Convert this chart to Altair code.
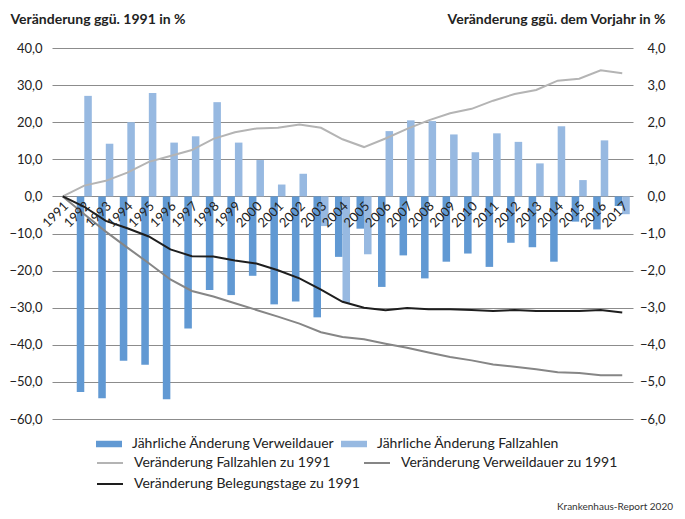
import altair as alt
import pandas as pd

FONT = "Lato"

years = [str(y) for y in range(1991, 2018)]

# Jährliche Änderung (rechte Achse, % ggü. Vorjahr)
vwd_change = [None, -5.27, -5.44, -4.43, -4.54, -5.47, -3.56, -2.52, -2.66, -2.14, -2.91,
              -2.83, -3.26, -1.63, -0.87, -2.44, -1.59, -2.21, -1.76, -1.54, -1.90,
              -1.25, -1.37, -1.76, -0.68, -0.89, -0.26]
fall_change = [None, 2.71, 1.42, 2.00, 2.79, 1.45, 1.62, 2.54, 1.45, 0.98, 0.32,
               0.61, -0.80, -2.87, -1.56, 1.76, 2.05, 2.03, 1.67, 1.19, 1.70,
               1.47, 0.89, 1.89, 0.44, 1.51, -0.48]

# Veränderung ggü. 1991 (linke Achse, %)
fall_line = [0.0, 2.9, 4.2, 6.4, 9.3, 10.9, 12.5, 15.5, 17.3, 18.3, 18.5, 19.4, 18.5,
             15.4, 13.3, 15.6, 18.2, 20.5, 22.4, 23.6, 25.8, 27.6, 28.7, 31.2, 31.7, 34.0, 33.2]
vwd_line = [0.0, -4.8, -9.5, -13.8, -18.0, -22.4, -25.5, -27.0, -28.8, -30.6, -32.4, -34.3,
            -36.6, -37.9, -38.5, -39.7, -40.8, -42.1, -43.3, -44.2, -45.3, -45.9, -46.6,
            -47.4, -47.6, -48.2, -48.2]
beleg_line = [0.0, -2.8, -6.6, -8.6, -10.8, -14.3, -16.1, -16.2, -17.3, -18.1, -19.9, -22.1,
              -25.1, -28.4, -30.0, -30.7, -30.1, -30.4, -30.4, -30.6, -30.9, -30.6, -30.9,
              -30.9, -30.9, -30.6, -31.3]

bar_names = ["Jährliche Änderung Verweildauer", "Jährliche Änderung Fallzahlen"]
bar_colors = ["#6199d3", "#97b9e1"]
line_names = ["Veränderung Fallzahlen zu 1991", "Veränderung Verweildauer zu 1991",
              "Veränderung Belegungstage zu 1991"]
line_colors = ["#b4b4b4", "#868686", "#1e1e1e"]

left_ticks = [-60, -50, -40, -30, -20, -10, 0, 10, 20, 30, 40]
right_ticks = [-6, -5, -4, -3, -2, -1, 0, 1, 2, 3, 4]

bars_df = pd.DataFrame({
    "year": years * 2,
    "series": [bar_names[0]] * len(years) + [bar_names[1]] * len(years),
    "value": vwd_change + fall_change,
}).dropna()

lines_df = pd.DataFrame({
    "year": years * 3,
    "series": [line_names[0]] * len(years) + [line_names[1]] * len(years) + [line_names[2]] * len(years),
    "value": fall_line + vwd_line + beleg_line,
})

labels_df = pd.DataFrame({"year": years, "zero": [0] * len(years)})

label_expr = "replace(format(datum.value, '.1f'), '.', ',')"

x_enc = alt.X("year:N", scale=alt.Scale(domain=years, paddingInner=0.3, paddingOuter=0.15),
              axis=None)

bars = alt.Chart(bars_df).mark_bar().encode(
    x=x_enc,
    xOffset=alt.XOffset("series:N", scale=alt.Scale(domain=bar_names, paddingInner=0, paddingOuter=0)),
    y=alt.Y("value:Q",
            scale=alt.Scale(domain=[-6, 4], nice=False, zero=False),
            axis=alt.Axis(orient="right", values=right_ticks, labelExpr=label_expr,
                          grid=False, domain=False, ticks=False,
                          labelAlign="right", labelPadding=32,
                          labelFont=FONT, labelFontSize=13, labelColor="#222",
                          title="Veränderung ggü. dem Vorjahr in %", titleAngle=0,
                          titleAlign="right", titleBaseline="alphabetic",
                          titleX=32, titleY=-25, titleFont=FONT, titleFontSize=14,
                          titleFontWeight="bold", titleColor="#222")),
    fill=alt.Fill("series:N", scale=alt.Scale(domain=bar_names, range=bar_colors),
                  legend=alt.Legend(orient="none", legendX=44, legendY=383, title=None,
                                    direction="horizontal", columns=2, columnPadding=6,
                                    symbolType="M-1,-0.25H1V0.25H-1Z", symbolSize=676,
                                    symbolStrokeWidth=0, labelOffset=10, labelLimit=400,
                                    labelFont=FONT, labelFontSize=14, labelColor="#222")),
)

lines = alt.Chart(lines_df).mark_line(strokeWidth=2).encode(
    x=x_enc,
    y=alt.Y("value:Q",
            scale=alt.Scale(domain=[-60, 40], nice=False, zero=False),
            axis=alt.Axis(orient="left", values=left_ticks, labelExpr=label_expr,
                          grid=True, gridColor="#8c8c8c", gridWidth=1,
                          domain=False, ticks=False, labelPadding=10,
                          labelFont=FONT, labelFontSize=13, labelColor="#222",
                          title="Veränderung ggü. 1991 in %", titleAngle=0,
                          titleAlign="left", titleBaseline="alphabetic",
                          titleX=-42, titleY=-25, titleFont=FONT, titleFontSize=14,
                          titleFontWeight="bold", titleColor="#222")),
    stroke=alt.Stroke("series:N", scale=alt.Scale(domain=line_names, range=line_colors),
                      legend=alt.Legend(orient="none", legendX=44, legendY=401, title=None,
                                        direction="horizontal", columns=2, columnPadding=0,
                                        rowPadding=0, labelLimit=400,
                                        symbolType="stroke", symbolSize=676,
                                        symbolStrokeWidth=2, labelOffset=10,
                                        labelFont=FONT, labelFontSize=14, labelColor="#222")),
)

xlabels = alt.Chart(labels_df).mark_text(
    angle=315, align="right", baseline="top", font=FONT, fontSize=13, color="#222", dx=-3, dy=2
).encode(
    x=x_enc,
    y=alt.Y("zero:Q", scale=alt.Scale(domain=[-60, 40], nice=False, zero=False), axis=None),
    text="year:N",
)

chart = alt.layer(bars, lines, xlabels).resolve_scale(
    y="independent", fill="independent", stroke="independent"
).properties(
    width=581, height=371,
    autosize=alt.AutoSizeParams(type="none"),
    padding={"left": 44, "top": 40, "right": 44, "bottom": 92},
    background="white",
    title=alt.TitleParams("Krankenhaus-Report 2020", orient="bottom", anchor="end",
                          font=FONT, fontSize=10, fontWeight="normal", color="#333",
                          dx=8, offset=11),
).configure_view(stroke=None)

chart.save("out.html", embed_options={"renderer": "svg", "actions": False})
